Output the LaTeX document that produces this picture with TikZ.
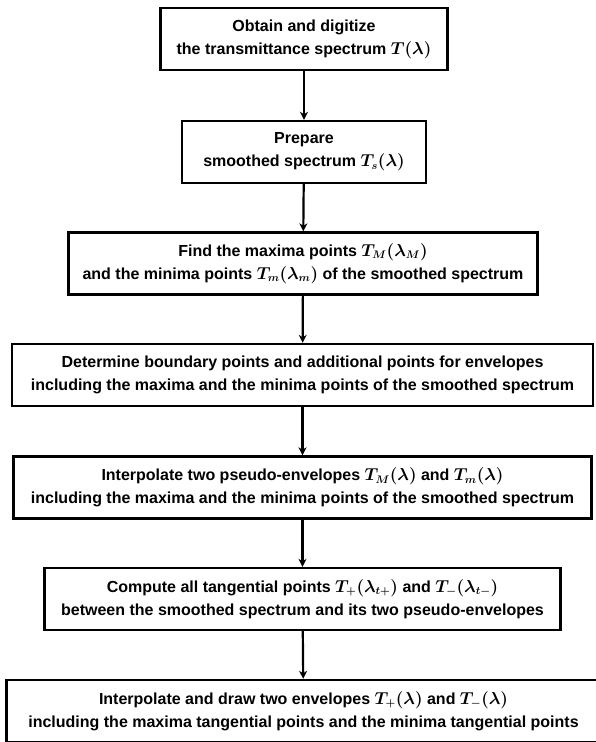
\documentclass[tikz,border=0pt]{standalone}
\usepackage{amsmath}
\usepackage{fontspec}
\setmainfont{Liberation Sans}
\usepackage{tikz}
\usetikzlibrary{arrows.meta}
\tikzstyle{stage} = [rectangle, minimum height=62pt, text centered, align=center, draw=black, line width=2.4pt, inner xsep=14pt, inner ysep=0pt, font=\fontsize{16}{23}\selectfont\bfseries\boldmath]
\tikzstyle{arrow} = [line width=2.2pt,-{Stealth[length=8pt,width=8pt]}]

\begin{document}
\begin{tikzpicture}[node distance=111.5pt]
        \useasboundingbox (0,0) rectangle (595pt,-742pt);
        \node (obtain) [stage, minimum width=287pt] at (304pt,-39pt) {Obtain and digitize\\the transmittance spectrum $T(\lambda)$};
        \node (smooth) [stage, minimum width=244pt, below of=obtain, yshift=-1.5pt] {Prepare\\smoothed spectrum $T_s(\lambda)$};
        \node (extrema) [stage, below of=smooth, xshift=-1pt] {Find the maxima points $T_M(\lambda_M)$\\and the minima points $T_m(\lambda_m)$ of the smoothed spectrum};
        \node (boundary) [stage, minimum width=581pt, below of=extrema, xshift=-0.5pt] {Determine boundary points and additional points for envelopes\\including the maxima and the minima points of the smoothed spectrum};
        \node (pseudo) [stage, minimum width=578pt, below of=boundary, yshift=-1pt] {Interpolate two pseudo-envelopes $T_M(\lambda)$ and $T_m(\lambda)$\\including the maxima and the minima points of the smoothed spectrum};
        \node (tangent) [stage, minimum width=516pt, below of=pseudo] {Compute all tangential points $T_+(\lambda_{t+})$ and $T_-(\lambda_{t-})$\\between the smoothed spectrum and its two pseudo-envelopes};
        \node (envelope) [stage, minimum width=594pt, below of=tangent, xshift=1pt, yshift=-0.5pt] {Interpolate and draw two envelopes $T_+(\lambda)$ and $T_-(\lambda)$\\including the maxima tangential points and the minima tangential points};

        \draw [arrow] (obtain) -- (smooth);
        \draw [arrow] (smooth) -- (extrema);
        \draw [arrow] (extrema) -- (boundary);
        \draw [arrow] (boundary) -- (pseudo);
        \draw [arrow] (pseudo) -- (tangent);
        \draw [arrow] (tangent) -- (envelope);
    \end{tikzpicture}
\end{document}
